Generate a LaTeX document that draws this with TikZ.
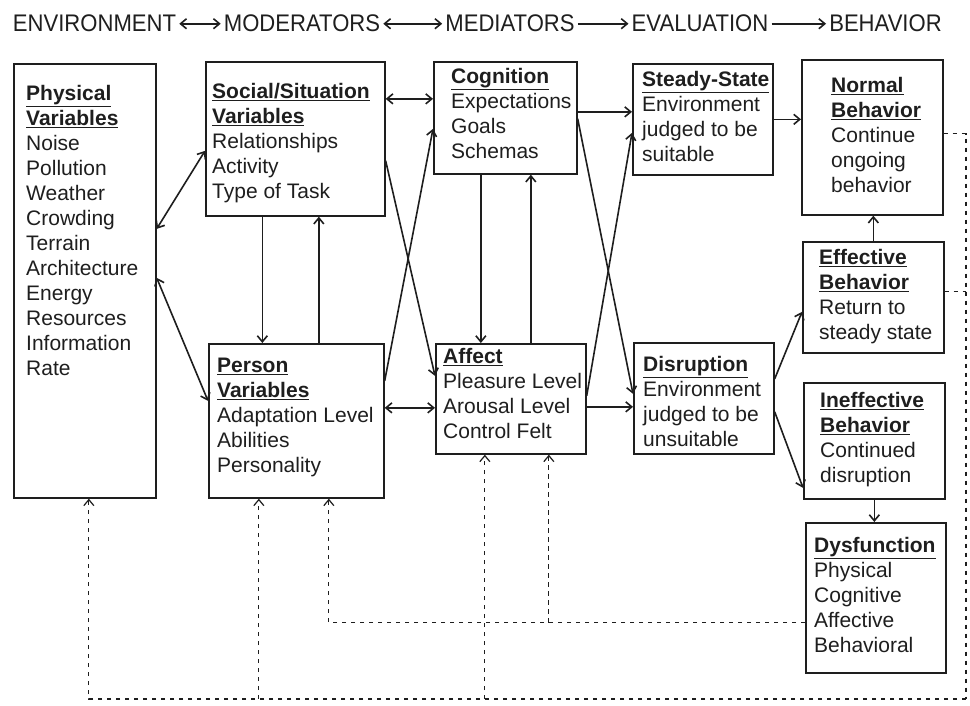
\documentclass[tikz,border=0pt]{standalone}
\usepackage{fontspec}
\setmainfont{Liberation Sans}
\newfontfamily\hdrfont[FakeStretch=0.92]{Liberation Sans}
\usepackage{tikz}
\usetikzlibrary{arrows.meta}
\definecolor{ink}{RGB}{30, 30, 30}
\newcommand*{\hd}[1]{\underline{\textbf{#1}}}

\begin{document}
\begin{tikzpicture}[
   x=1pt, y=-1pt,
   >={Straight Barb[length=6pt, width=10pt]},
   varbox/.style={rectangle, draw=ink, line width=1.7, inner sep=0, anchor=north west},
   vartext/.style={anchor=north west, inner sep=0, align=left, text=ink,
                   font=\fontsize{21}{25}\selectfont},
   hdr/.style={anchor=base, inner sep=3, text=ink, font=\hdrfont\fontsize{24}{28}\selectfont},
   link/.style={draw=ink, line width=1.6},
   feedback/.style={draw=ink, line width=1.2, dash pattern=on 4.5pt off 4.5pt}
  ]

  \useasboundingbox (0, 0) rectangle (970, 706);

  % Header
  \node (env) at (94.5, 32) [hdr] {ENVIRONMENT};
  \node (mod) at (302, 32) [hdr] {MODERATORS};
  \node (med) at (510, 32) [hdr] {MEDIATORS};
  \node (eval) at (700, 32) [hdr] {EVALUATION};
  \node (beh) at (885.5, 32) [hdr] {BEHAVIOR};

  \foreach \B/\E/\A in {env/mod/<->, mod/med/<->, med/eval/->, eval/beh/->} {
    \draw[link, \A] (\B) -- (\E);
  }

  % Boxes
  \node (phys) at (13, 63) [varbox, minimum width=142, minimum height=434] {};
  \node (soc) at (205, 61) [varbox, minimum width=179, minimum height=154] {};
  \node (pers) at (208, 343) [varbox, minimum width=175, minimum height=154] {};
  \node (cog) at (433, 61) [varbox, minimum width=143, minimum height=112] {};
  \node (aff) at (435, 343) [varbox, minimum width=150, minimum height=110] {};
  \node (ss) at (632, 63) [varbox, minimum width=140, minimum height=111] {};
  \node (dis) at (633, 342) [varbox, minimum width=140, minimum height=111] {};
  \node (norm) at (801, 59) [varbox, minimum width=141, minimum height=155] {};
  \node (eff) at (802, 241) [varbox, minimum width=141, minimum height=111] {};
  \node (ineff) at (803, 382) [varbox, minimum width=141, minimum height=116] {};
  \node (dys) at (805, 522) [varbox, minimum width=140, minimum height=150] {};

  % Box texts
  \node (physT) at (26, 85) [vartext] {\hd{Physical}\\ \hd{Variables}\\ Noise\\ Pollution\\
    Weather\\ Crowding\\ Terrain\\ Architecture\\ Energy\\ Resources\\ Information\\ Rate};
  \node (socT) at (212, 83) [vartext] {\hd{Social/Situation}\\ \hd{Variables}\\
    Relationships\\ Activity\\ Type of Task};
  \node (persT) at (217, 358) [vartext] {\hd{Person}\\ \hd{Variables}\\
    Adaptation Level\\ Abilities\\ Personality};
  \node (cogT) at (451, 68) [vartext] {\hd{Cognition}\\ Expectations\\ Goals\\ Schemas};
  \node (affT) at (443, 348) [vartext] {\hd{Affect}\\ Pleasure Level\\ Arousal Level\\ Control Felt};
  \node (ssT) at (642, 71) [vartext] {\hd{Steady-State}\\ Environment\\ judged to be\\ suitable};
  \node (disT) at (643, 356) [vartext] {\hd{Disruption}\\ Environment\\ judged to be\\ unsuitable};
  \node (normT) at (831, 77) [vartext] {\hd{Normal}\\ \hd{Behavior}\\ Continue\\ ongoing\\ behavior};
  \node (effT) at (819, 249) [vartext] {\hd{Effective}\\ \hd{Behavior}\\ Return to\\ steady state};
  \node (ineffT) at (820, 392) [vartext] {\hd{Ineffective}\\ \hd{Behavior}\\ Continued\\ disruption};
  \node (dysT) at (814, 537) [vartext] {\hd{Dysfunction}\\ Physical\\ Cognitive\\ Affective\\ Behavioral};

  % Links
  \draw[link, <->] ([yshift=52]phys.east) -- ([yshift=-12]soc.west);
  \draw[link, <->] ([yshift=3]phys.east) -- ([yshift=20]pers.west);
  \draw[link, ->] ([xshift=-33]soc.south) -- ([xshift=-33]soc.south |- pers.north);
  \draw[link, ->] ([xshift=22.5]pers.north) -- ([xshift=22.5]pers.north |- soc.south);
  \draw[link, <->] ([yshift=40]soc.east) -- ([yshift=40]soc.east -| cog.west);
  \draw[link, <->] ([yshift=13]pers.east) -- ([yshift=13]pers.east -| aff.west);
  \draw[link, ->] ([yshift=-22]soc.east) -- ([yshift=23]aff.west);
  \draw[link, ->] ([yshift=40]pers.east) -- ([yshift=-11]cog.west);
  \draw[link, ->] ([xshift=-24.5]cog.south) -- ([xshift=-24.5]cog.south |- aff.north);
  \draw[link, ->] ([xshift=20]aff.north) -- ([xshift=20]aff.north |- cog.south);
  \draw[link, ->] ([yshift=6]cog.east) -- ([yshift=6]cog.east -| ss.west);
  \draw[link, ->] ([yshift=-8]aff.east) -- ([yshift=-8]aff.east -| dis.west);
  \draw[link, ->] ([yshift=-1]cog.east) -- ([yshift=4.5]dis.west);
  \draw[link, ->] ([yshift=3]aff.east) -- ([yshift=-13.5]ss.west);
  \draw[link, ->] (ss.east) -- (ss.east -| norm.west);
  \draw[link, ->] (eff.north) -- (eff.north |- norm.south);
  \draw[link, ->] ([yshift=19.5]dis.east) -- ([yshift=-14.5]eff.west);
  \draw[link, ->] ([yshift=-13.5]dis.east) -- ([yshift=-47]ineff.west);
  \draw[link, ->] (ineff.south) -- (ineff.south |- dys.north);

  % Feedback
  \coordinate (fbR) at (966, 699);
  \coordinate (fbM) at ([yshift=-25]dys.west);

  \draw[feedback] ([yshift=3.5]norm.east) -| (fbR);
  \draw[feedback] ([yshift=5.5]eff.east) -- ([yshift=5.5]eff.east -| fbR);
  \draw[feedback, ->] (fbR) -| ([xshift=4]phys.south);
  \draw[feedback, ->] ([xshift=-37.5]pers.south |- fbR) -- ([xshift=-37.5]pers.south);
  \draw[feedback, ->] ([xshift=-26]aff.south |- fbR) -- ([xshift=-26]aff.south);
  \draw[feedback, ->] (fbM) -| ([xshift=32.5]pers.south);
  \draw[feedback, ->] ([xshift=38]aff.south |- fbM) -- ([xshift=38]aff.south);

\end{tikzpicture}
\end{document}
